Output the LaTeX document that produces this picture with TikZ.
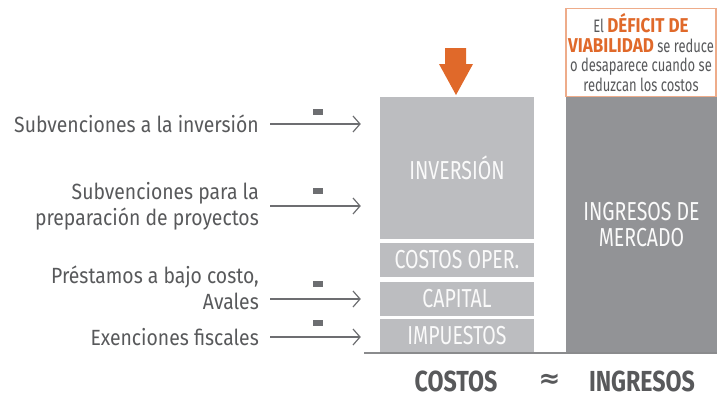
\documentclass[tikz,border=0pt]{standalone}
\usepackage{fontspec}
\setmainfont[FakeStretch=0.8]{Fira Sans}
\newfontfamily\labelfont[FakeStretch=0.88]{Fira Sans}
\newfontfamily\boxfont[FakeStretch=0.75]{Fira Sans}
\newfontfamily\notefont[FakeStretch=0.72]{Fira Sans}
\newfontfamily\footfont[FakeStretch=0.85]{Fira Sans}
\newfontfamily\symfont{DejaVu Sans}
\usepackage{tikz}
\usetikzlibrary{arrows.meta}

\definecolor{txtgray}{HTML}{58595B}
\definecolor{linegray}{HTML}{6D6E71}
\definecolor{boxlight}{HTML}{BCBDC0}
\definecolor{boxdark}{HTML}{929396}
\definecolor{naranja}{HTML}{E0692A}

\newcommand{\resalta}[1]{{\footfont\fontsize{20}{19.5}\selectfont\bfseries\color{naranja}#1}}

\tikzset{
    costbox/.style={fill=boxlight, minimum width=154pt, inner sep=0pt,
        text=white!92!boxlight, font=\boxfont\fontsize{26}{28}\selectfont},
    lbl/.style={anchor=east, align=right, text=txtgray,
        font=\labelfont\fontsize{22}{26}\selectfont, inner sep=0pt},
    arr/.style={->, draw=linegray, line width=1.4pt, >={Straight Barb[length=7pt,width=16pt,line width=1.2pt]}},
    menos/.style={fill=linegray, minimum width=10pt, minimum height=6pt, inner sep=0pt},
    pie/.style={text=txtgray, inner sep=0pt, font=\fontsize{29}{31}\bfseries\selectfont}
}

\begin{document}
\begin{tikzpicture}[x=1pt,y=-1pt]
    \useasboundingbox (0,0) rectangle (717,397);
    % columna de costos
    \node[costbox, minimum height=142pt] (inv) at (457,168) {INVERSIÓN};
    \node[costbox, minimum height=34pt] (oper) at (457,260) {COSTOS OPER.};
    \node[costbox, minimum height=34pt] (cap) at (457,299) {CAPITAL};
    \node[costbox, minimum height=33pt] (imp) at (457,335.5) {IMPUESTOS};
    % columna de ingresos
    \node[fill=boxdark, minimum width=151pt, minimum height=255pt, inner sep=0pt,
        align=center, text=white!95!boxdark, font=\boxfont\fontsize{26}{26}\selectfont]
        (ing) at (641.5,224.5) {INGRESOS DE\\MERCADO};
    \draw[draw=linegray!80, line width=1.5pt] (364,353) -- (717,353);
    % recuadro
    \node[draw=naranja!55, line width=1.5pt, fill=white, minimum width=150pt, minimum height=88pt,
        inner sep=0pt, align=center, text=txtgray, font=\notefont\fontsize{18}{19.5}\selectfont]
        (nota) at (641,52.5) {El \resalta{DÉFICIT DE}\\\resalta{VIABILIDAD} se reduce\\o desaparece cuando se\\reduzcan los costos};
    % flecha naranja
    \fill[naranja] (445,48) -- (466,48) -- (466,64) -- (473,64) -- (456,95) -- (439,64) -- (445,64) -- cycle;
    % etiquetas
    \node[lbl] (sinv) at (259,124) {Subvenciones a la inversión};
    \node[lbl] (sprep) at (259,206) {Subvenciones para la\\preparación de proyectos};
    \node[lbl] (prest) at (259,288) {Préstamos a bajo costo,\\Avales};
    \node[lbl] (exen) at (259,337) {Exenciones fiscales};
    \draw[arr] ([xshift=11pt]sinv.east) -- ([xshift=-19pt]sinv.east -| inv.west);
    \draw[arr] ([xshift=11pt]sprep.east) -- ([xshift=-19pt]sprep.east -| inv.west);
    \draw[arr] ([xshift=11pt]prest.east |- cap) -- ([xshift=-19pt]cap.west);
    \draw[arr] ([xshift=11pt]exen.east) -- ([xshift=-19pt]exen.east -| imp.west);
    \node[menos] (m1) at (318,112) {};
    \node[menos] (m2) at (318,191) {};
    \node[menos] (m3) at (318,284) {};
    \node[menos] (m4) at (318,323) {};
    % pie
    \node[pie] (costos) at (456,381) {COSTOS};
    \node[text=txtgray, inner sep=0pt, font=\symfont\fontsize{26}{28}\bfseries\selectfont] (aprox) at (549.5,381) {≈};
    \node[pie] (ingr) at (642,381) {INGRESOS};
\end{tikzpicture}
\end{document}
